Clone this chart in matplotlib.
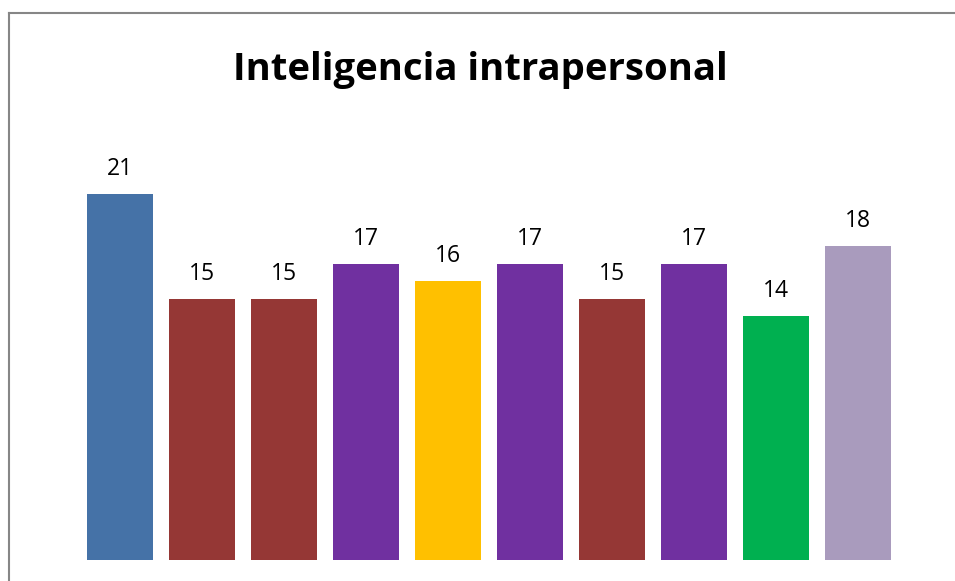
import matplotlib
matplotlib.use("Agg")
import matplotlib.pyplot as plt
from matplotlib.lines import Line2D

# data
categories = ["1", "2", "3", "4", "5", "6", "7", "8", "9", "10"]
values = [21, 15, 15, 17, 16, 17, 15, 17, 14, 18]
bar_colors = ["#4572A7", "#953735", "#953735", "#7030A0", "#FFC000",
              "#7030A0", "#953735", "#7030A0", "#00B050", "#A99BBD"]
title = "Inteligencia intrapersonal"

W, H = 955, 581
plt.rcParams["font.family"] = ["Open Sans", "DejaVu Sans"]

fig = plt.figure(figsize=(W / 100, H / 100), dpi=100)
fig.patch.set_facecolor("white")

# plot area in pixels: 10 slots of 82 px starting at x=79, baseline at y=560
ymax = 24
px_per_unit = 17.43
left, base = 79, 560
ax = fig.add_axes([left / W, (H - base) / H, 820 / W, ymax * px_per_unit / H])
x = range(len(categories))
bars = ax.bar(x, values, width=66 / 82, color=bar_colors)
ax.set_xlim(-0.5, len(categories) - 0.5)
ax.set_ylim(0, ymax)
ax.axis("off")

for b, v in zip(bars, values):
    ax.annotate(str(v), (b.get_x() + b.get_width() / 2, v),
                xytext=(0, 13.7), textcoords="offset points",
                ha="center", va="baseline", fontsize=16.5, color="black")

fig.text(480 / W, 1 - 80 / H, title, ha="center", va="baseline",
         fontsize=27.5, fontweight="bold", color="black")

# chart frame (only top and left edges are inside the picture)
fig.add_artist(Line2D([8.5 / W, 8.5 / W], [0, 1 - 12.5 / H],
                      transform=fig.transFigure, color="#868686", lw=1.5))
fig.add_artist(Line2D([8.5 / W, 1], [1 - 12.5 / H, 1 - 12.5 / H],
                      transform=fig.transFigure, color="#868686", lw=1.5))

fig.savefig("out.png", dpi=100)
